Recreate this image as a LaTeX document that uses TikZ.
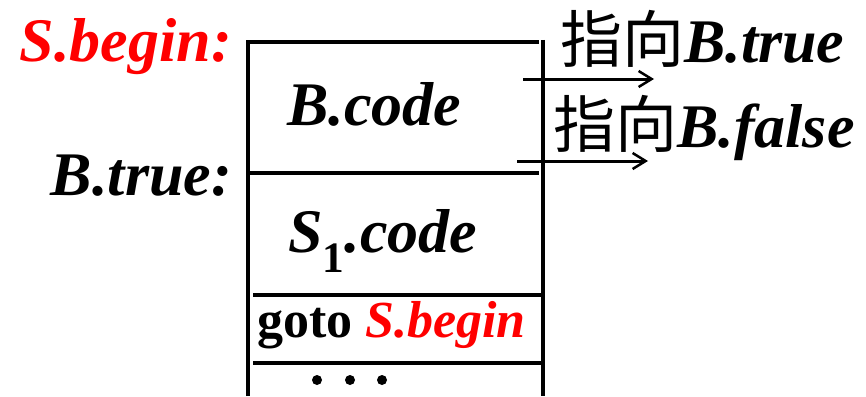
\documentclass[tikz,border=0pt]{standalone}
\usepackage{fontspec}
\newfontfamily\tnr{Liberation Serif}
\newfontfamily\cjk{Noto Sans CJK SC}
\usetikzlibrary{arrows.meta}
\definecolor{hired}{RGB}{255,0,0}
\tikzset{
  lbl/.style={inner sep=0pt, font=\fontsize{62}{64}\selectfont\tnr\bfseries\itshape},
  small/.style={inner sep=0pt, font=\fontsize{52}{54}\selectfont\tnr\bfseries},
  boxline/.style={line width=4pt},
  ptr/.style={line width=3pt, -{Straight Barb[length=13pt,width=16pt,line width=2.5pt]}}
}
\begin{document}
\begin{tikzpicture}[x=1pt,y=-1pt]
\useasboundingbox (0,0) rectangle (866,396);
% box lines
\draw[boxline] (248,396) -- (248,42) -- (539,42);
\draw[boxline] (543,40) -- (543,396);
\draw[boxline] (248,173) -- (539,173);
\draw[boxline] (253,295) -- (541,295);
\draw[boxline] (253,363) -- (541,363);
% labels
\node[lbl, text=hired, anchor=base east] (sbegin) at (232,62) {S.begin:};
\node[lbl, anchor=base east] (btrue) at (232,195) {B.true:};
\node[lbl, anchor=base west] (bcode) at (287,125) {B.code};
\node[lbl, anchor=base west] (s1code) at (288,252) {S\textsubscript{\upshape 1}.code};
\node[small, anchor=base west] (gotoS) at (257,337) {goto \textcolor{hired}{\itshape S.begin}};
\node[lbl, anchor=base west] (tt) at (560,63) {{\cjk\mdseries\upshape 指向}B.true};
\node[lbl, anchor=base west] (ff) at (553,147) {{\cjk\mdseries\upshape 指向}B.false};
% dots
\foreach \x/\n in {317/d1,350/d2,382/d3}
  \fill (\x,380) circle (5pt) coordinate (\n);
% arrows
\coordinate (a1s) at (523,79);
\coordinate (a1e) at (654,79);
\coordinate (a2s) at (517,161);
\coordinate (a2e) at (648,161);
\draw[ptr] (a1s) -- (a1e);
\draw[ptr] (a2s) -- (a2e);
\end{tikzpicture}
\end{document}
